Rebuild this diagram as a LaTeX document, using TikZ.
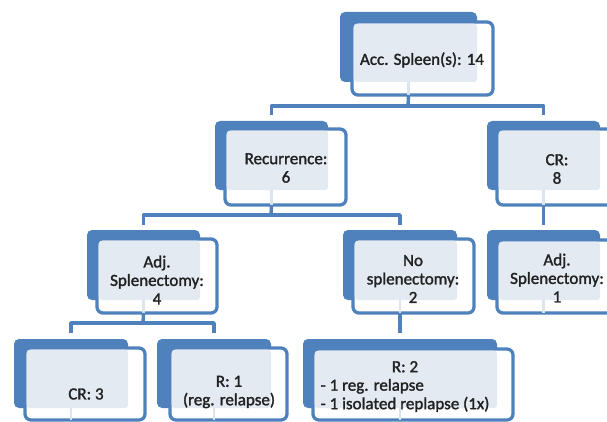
\documentclass[tikz,border=0pt]{standalone}
\usepackage{fontspec}
\setmainfont[FakeBold=1.6]{Carlito}
\definecolor{oblue}{RGB}{79,129,189}
\definecolor{ovl}{RGB}{228,234,242}
\definecolor{faintc}{RGB}{220,228,238}
\definecolor{txt}{RGB}{34,34,34}
\tikzset{
  backbox/.style={fill=oblue, draw=none, rounded corners=5pt, inner sep=0pt, outer sep=0pt},
  frontbox/.style={fill=white, draw=oblue, line width=3.3pt, rounded corners=6pt, inner sep=0pt, outer sep=0pt},
  overlap/.style={fill=ovl},
  faint/.style={draw=faintc, line width=2.5pt},
  conn/.style={draw=oblue, line width=3.4pt, line join=round},
  lbl/.style={text=txt, align=center, inner sep=0pt, font=\fontsize{17}{18.5}\selectfont}
}
\newcommand\tbox[9]{%
  \node[backbox, minimum width={(#4)-(#2)}, minimum height={(#5)-(#3)}] (#1b) at ({((#2)+(#4))/2},{((#3)+(#5))/2}) {};
  \node[frontbox, minimum width={(#8)-(#6)}, minimum height={(#9)-(#7)}] (#1) at ({((#6)+(#8))/2},{((#7)+(#9))/2}) {};
  \fill[overlap, rounded corners=3pt] ([shift={(1.7,1.7)}]#1.north west) rectangle (#1b.south east);
  \draw[faint] (#1b.south) -- (#1b.south |- #1.south);
}
\begin{document}
\begin{tikzpicture}[x=1pt, y=-1pt]
\useasboundingbox (0,0) rectangle (607,422);
\clip (0,0) rectangle (607,422);
% boxes
\tbox{A}{340}{12}{477}{82}{352}{22}{493}{95}
\tbox{B}{215}{121}{328}{190}{225}{129}{346}{205}
\tbox{C}{487}{121}{600}{190}{497}{129}{618}{205}
\tbox{D}{87}{230}{200}{300}{97}{239}{217}{313}
\tbox{E}{343}{230}{457}{300}{353}{239}{474}{313}
\tbox{F}{487}{230}{600}{300}{497}{240}{618}{313}
\tbox{G}{14}{339}{128}{408}{25}{348}{145}{420}
\tbox{H}{157}{339}{271}{408}{170}{348}{287}{420}
\tbox{I}{303}{339}{497}{408}{313}{349}{513}{420}
% labels
\node[lbl] (At) at (422,60) {Acc. Spleen(s): 14};
\node[lbl] (Bt) at (286,168) {Recurrence:\\6};
\node[lbl] (Ct) at (557,169) {CR:\\8};
\node[lbl] (Dt) at (157,280) {Adj.\\Splenectomy:\\4};
\node[lbl] (Et) at (413,279) {No\\splenectomy:\\2};
\node[lbl] (Ft) at (557,278) {Adj.\\Splenectomy:\\1};
\node[lbl] (Gt) at (86,394) {CR: 3};
\node[lbl] (Ht) at (229,392) {R: 1\\(reg. relapse)};
\node[lbl] (It) at (405,387) {\begin{tabular}{@{}l@{}}\multicolumn{1}{@{}c@{}}{R: 2}\\- 1 reg. relapse\\- 1 isolated replapse (1x)\end{tabular}};
% connectors
\coordinate (j1) at (408,106);
\coordinate (j2) at (271,215);
\coordinate (j3) at (143,323);
\draw[conn] (Ab.south |- A.south) -- (j1);
\draw[conn] ([yshift=6pt]Bb.north) |- (j1) -| ([yshift=6pt]Cb.north);
\draw[conn] (Bb.south |- B.south) -- (j2);
\draw[conn] ([yshift=5pt]Db.north) |- (j2) -| ([yshift=5pt]Eb.north);
\draw[conn] (Cb.south |- C.south) -- ([yshift=5pt]Fb.north);
\draw[conn] (Db.south |- D.south) -- (j3);
\draw[conn] ([yshift=6pt]Gb.north) |- (j3) -| ([yshift=6pt]Hb.north);
\draw[conn] (Eb.south |- E.south) -- ([yshift=6pt]Ib.north);
\end{tikzpicture}
\end{document}
